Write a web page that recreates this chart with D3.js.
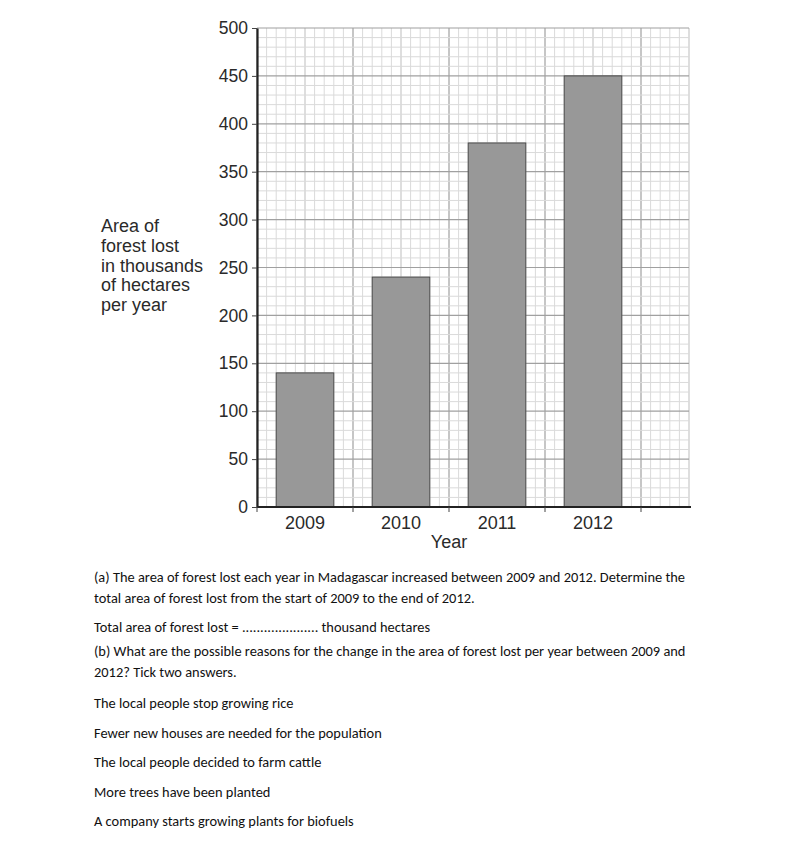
<!DOCTYPE html>
<html>
<head>
<meta charset="utf-8">
<script src="https://cdn.jsdelivr.net/npm/d3@7"></script>
<style>
  html, body { margin: 0; padding: 0; background: #fff; }
  svg { display: block; }
</style>
</head>
<body>
<script>
// ---- data ----
const years = ["2009", "2010", "2011", "2012"];
const forestLost = [140, 240, 380, 450];
const yTicks = [0, 50, 100, 150, 200, 250, 300, 350, 400, 450, 500];
const yTitleLines = ["Area of", "forest lost", "in thousands", "of hectares", "per year"];
const xTitle = "Year";
const questionLines = [
  "(a) The area of forest lost each year in Madagascar increased between 2009 and 2012. Determine the",
  "total area of forest lost from the start of 2009 to the end of 2012.",
  "Total area of forest lost = ..................... thousand hectares",
  "(b) What are the possible reasons for the change in the area of forest lost per year between 2009 and",
  "2012? Tick two answers.",
  "The local people stop growing rice",
  "Fewer new houses are needed for the population",
  "The local people decided to farm cattle",
  "More trees have been planted",
  "A company starts growing plants for biofuels"
];

// ---- layout ----
const W = 800, H = 859;
const plotLeft = 257, bandRight = 641, gridRight = 689, plotTop = 28, plotBottom = 507;
const chartFont = "'Liberation Sans', Arial, sans-serif";

const svg = d3.select("body").append("svg").attr("width", W).attr("height", H);

const x = d3.scaleBand().domain(years).range([plotLeft, bandRight]).paddingInner(0).paddingOuter(0);
const y = d3.scaleLinear().domain([0, 500]).range([plotBottom, plotTop]);
const bw = x.bandwidth();
const cell = bw / 10;

// ---- grid ----
const grid = svg.append("g");
const nCols = Math.round((gridRight - plotLeft) / cell);
for (let i = 0; i <= nCols; i++) {
  const gx = plotLeft + i * cell;
  const major = i % 10 === 0, mid = i % 5 === 0;
  grid.append("line")
    .attr("x1", gx).attr("x2", gx).attr("y1", y(500)).attr("y2", y(0))
    .attr("stroke", major ? "#a0a0a0" : mid ? "#bdbdbd" : "#dadada")
    .attr("stroke-width", major ? 1.2 : 1);
}
for (let v = 0; v <= 500; v += 10) {
  const major = v % 50 === 0;
  grid.append("line")
    .attr("x1", plotLeft).attr("x2", plotLeft + nCols * cell).attr("y1", y(v)).attr("y2", y(v))
    .attr("stroke", major ? "#a0a0a0" : "#dadada")
    .attr("stroke-width", major ? 1.2 : 1);
}

// ---- bars ----
svg.append("g").selectAll("rect")
  .data(years.map((yr, i) => ({ yr, v: forestLost[i] })))
  .join("rect")
  .attr("x", d => x(d.yr) + bw * 0.2)
  .attr("width", bw * 0.6)
  .attr("y", d => y(d.v))
  .attr("height", d => y(0) - y(d.v))
  .attr("fill", "#989898")
  .attr("stroke", "#4a4a4a")
  .attr("stroke-width", 1);

// ---- y axis ----
const yAxis = svg.append("g")
  .attr("transform", `translate(${plotLeft},0)`)
  .call(d3.axisLeft(y).tickValues(yTicks).tickSize(5).tickPadding(4).tickSizeOuter(0));
yAxis.select(".domain").attr("stroke", "#222").attr("stroke-width", 2.2);
yAxis.selectAll(".tick line").attr("stroke", "#444");
yAxis.selectAll(".tick text").attr("font-family", chartFont).attr("font-size", 17.5).attr("fill", "#2a2a2a");

// ---- x axis ----
const xAxis = svg.append("g").attr("transform", `translate(0,${plotBottom})`);
xAxis.append("line").attr("x1", plotLeft).attr("x2", plotLeft + nCols * cell + 2)
  .attr("y1", 0).attr("y2", 0).attr("stroke", "#222").attr("stroke-width", 2.2);
const bounds = years.map(d => x(d)).concat([bandRight]);
xAxis.selectAll("line.tk").data(bounds).join("line").attr("class", "tk")
  .attr("x1", d => d).attr("x2", d => d).attr("y1", 0).attr("y2", 5).attr("stroke", "#444");
xAxis.selectAll("text").data(years).join("text")
  .attr("x", d => x(d) + bw / 2).attr("y", 22)
  .attr("text-anchor", "middle")
  .attr("font-family", chartFont).attr("font-size", 18).attr("fill", "#2a2a2a")
  .text(d => d);

// ---- axis titles ----
svg.append("text").attr("x", (plotLeft + bandRight) / 2).attr("y", 548)
  .attr("text-anchor", "middle").attr("font-family", chartFont).attr("font-size", 18).attr("fill", "#2a2a2a")
  .text(xTitle);

const yt = svg.append("text").attr("font-family", chartFont).attr("font-size", 18).attr("fill", "#2a2a2a");
yTitleLines.forEach((t, i) => {
  yt.append("tspan").attr("x", 101).attr("y", 232 + i * 19.8).text(t);
});

// ---- question text ----
const qBase = [582, 603, 632, 656, 677, 708, 738, 767, 797, 826];
const qFont = "Carlito, Lato, 'Open Sans', sans-serif";
const q = svg.append("g").attr("font-family", qFont).attr("fill", "#111");
const qt = q.selectAll("text").data(questionLines).join("text")
  .attr("x", 94).attr("y", (d, i) => qBase[i]).attr("font-size", 14).text(d => d);
// condense glyphs horizontally so the first line spans ~591px, like the reference
const w0 = qt.nodes()[0].getComputedTextLength();
const k = 591 / w0;
qt.each(function () {
  const w = this.getComputedTextLength();
  d3.select(this).attr("textLength", w * k).attr("lengthAdjust", "spacingAndGlyphs");
});
</script>
</body>
</html>
